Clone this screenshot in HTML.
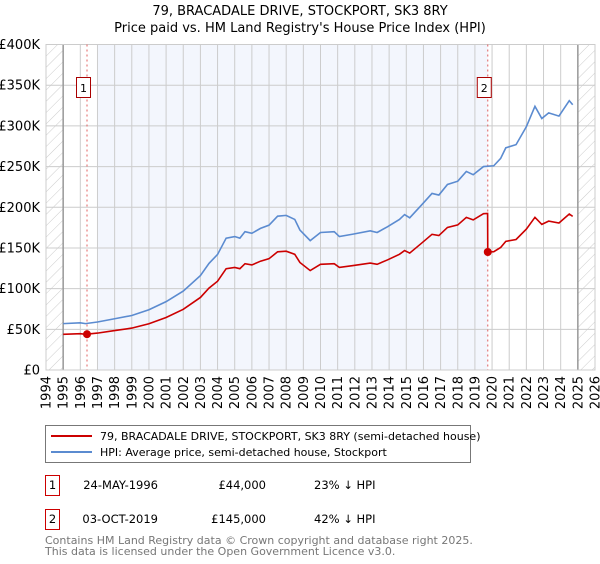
<!DOCTYPE html>
<html><head><meta charset="utf-8"><style>
body{margin:0;background:#fff;width:600px;height:560px;overflow:hidden;font-family:"DejaVu Sans","Liberation Sans",sans-serif}
svg text{font-family:"DejaVu Sans","Liberation Sans",sans-serif}
</style></head><body>
<svg id="c" width="600" height="560" xmlns="http://www.w3.org/2000/svg">
<defs><pattern id="h" width="8" height="8" patternUnits="userSpaceOnUse" patternTransform="rotate(45)"><line x1="0" y1="0" x2="0" y2="8" stroke="#ccc" stroke-width="1"/></pattern></defs>
<text x="300" y="15" text-anchor="middle" font-size="13" fill="#000">79, BRACADALE DRIVE, STOCKPORT, SK3 8RY</text>
<text x="300" y="32" text-anchor="middle" font-size="13" fill="#000">Price paid vs. HM Land Registry's House Price Index (HPI)</text>
<g id="plot"></g>
<g>
<rect x="45.5" y="425.5" width="425" height="37" fill="#fff" stroke="#777"/>
<line x1="51" y1="436" x2="92" y2="436" stroke="#cc0000" stroke-width="2"/>
<text x="100" y="440" font-size="11">79, BRACADALE DRIVE, STOCKPORT, SK3 8RY (semi-detached house)</text>
<line x1="51" y1="452" x2="92" y2="452" stroke="#5b8bd0" stroke-width="2"/>
<text x="100" y="456" font-size="11">HPI: Average price, semi-detached house, Stockport</text>
</g>
<g font-size="11.5">
<rect x="45.5" y="475.5" width="14" height="20" fill="#fff" stroke="#cc0000"/>
<text x="52.5" y="489" text-anchor="middle">1</text>
<text x="158" y="489" text-anchor="end">24-MAY-1996</text>
<text x="266" y="489" text-anchor="end">£44,000</text>
<text x="314" y="489">23% ↓ HPI</text>
<rect x="45.5" y="509.5" width="14" height="20" fill="#fff" stroke="#cc0000"/>
<text x="52.5" y="523" text-anchor="middle">2</text>
<text x="158" y="523" text-anchor="end">03-OCT-2019</text>
<text x="266" y="523" text-anchor="end">£145,000</text>
<text x="314" y="523">42% ↓ HPI</text>
</g>
<text x="45" y="544" font-size="11" fill="#777">Contains HM Land Registry data © Crown copyright and database right 2025.</text>
<text x="45" y="555" font-size="11" fill="#777">This data is licensed under the Open Government Licence v3.0.</text>
</svg>
<script>
const hpiYears=[1995,1996,1996.3,1997,1998,1999,2000,2001,2002,2003,2003.5,2004,2004.5,2005,2005.3,2005.6,2006,2006.5,2007,2007.5,2008,2008.5,2008.8,2009.4,2010,2010.8,2011.1,2011.9,2012.9,2013.3,2013.9,2014.6,2014.9,2015.2,2015.9,2016.5,2016.9,2017.4,2018,2018.5,2018.9,2019.5,2020.1,2020.5,2020.8,2021.4,2022,2022.5,2022.9,2023.3,2023.9,2024.5,2024.7];
const hpiValues=[57,58,57,59,63,67,74,84,97,116,131,142,162,164,162,170,168,174,178,189,190,185,172,159,169,170,164,167,171,169,176,185,191,187,203,217,215,228,232,244,240,250,251,260,273,277,299,324,309,316,312,331,326];
const saleYears=[1996.39,2019.75];
const salePrices=[44,145];
const yTicks=[0,50,100,150,200,250,300,350,400];
const yTickLabels=["£0","£50K","£100K","£150K","£200K","£250K","£300K","£350K","£400K"];
const xTicks=[1994,1995,1996,1997,1998,1999,2000,2001,2002,2003,2004,2005,2006,2007,2008,2009,2010,2011,2012,2013,2014,2015,2016,2017,2018,2019,2020,2021,2022,2023,2024,2025,2026];

const L=46,R=595,T=44.5,B=370;
const X=y=>L+(y-1994)/(2026-1994)*(R-L);
const Y=v=>B-v/400*(B-T);
const NS="http://www.w3.org/2000/svg";
const g=document.getElementById('plot');
function mk(t,a){const e=document.createElementNS(NS,t);for(const k in a)e.setAttribute(k,a[k]);g.appendChild(e);return e;}
function hpiAt(y){for(let i=0;i<hpiYears.length-1;i++){if(y<=hpiYears[i+1]){const f=(y-hpiYears[i])/(hpiYears[i+1]-hpiYears[i]);return hpiValues[i]+f*(hpiValues[i+1]-hpiValues[i]);}}return hpiValues[hpiValues.length-1];}

let e=mk('rect',{x:X(1997),y:T,width:X(saleYears[1])-X(1997),height:B-T,fill:'#f3f6fd'});


e=mk('rect',{x:L,y:T,width:X(1995)-L,height:B-T,fill:'url(#h)'});


e=mk('rect',{x:X(2025),y:T,width:R-X(2025),height:B-T,fill:'url(#h)'});



xTicks.forEach(t=>{
 const l=mk('line',{x1:X(t),x2:X(t),y1:T,y2:B,stroke:'#ccc','stroke-width':1});
 
 
 const tx=mk('text',{x:0,y:0,'font-size':13,'text-anchor':'end',transform:`translate(${X(t)+4.5},${B+6}) rotate(-90)`});
 tx.textContent=t;
 
 
});
yTicks.forEach((t,i)=>{
 const l=mk('line',{x1:L,x2:R,y1:Y(t),y2:Y(t),stroke:'#ccc','stroke-width':1});
 
 
 const tx=mk('text',{x:40,y:Y(t)+4.5,'font-size':13,'text-anchor':'end'});
 tx.textContent=yTickLabels[i];
 
 
});
[1995,2025].forEach(t=>{const l=mk('line',{x1:X(t),x2:X(t),y1:T,y2:B,stroke:'#999','stroke-width':1.5});
 
 });
e=mk('rect',{x:L,y:T,width:R-L,height:B-T,fill:'none',stroke:'#ccc'});



saleYears.forEach((s,i)=>{
 const l=mk('line',{x1:X(s),x2:X(s),y1:T,y2:B,stroke:'#e06060','stroke-dasharray':'2,3','stroke-width':1});
 
 
});

e=mk('polyline',{points:hpiYears.map((y,i)=>X(y)+','+Y(hpiValues[i])).join(' '),fill:'none',stroke:'#5b8bd0','stroke-width':1.6});



const pts=[];
hpiYears.forEach((y,i)=>{
 let k=0;if(y>=saleYears[1])k=1;
 if(k===1&&pts.length&&pts[pts.length-1].k===0){const p0=hpiAt(saleYears[1]-0.01)*salePrices[0]/hpiAt(saleYears[0]);pts.push({x:saleYears[1]-0.01,v:p0,k:0});pts.push({x:saleYears[1],v:salePrices[1],k:1});}
 pts.push({x:y,v:hpiValues[i]*salePrices[k]/hpiAt(saleYears[k]),k:k});
});
e=mk('polyline',{points:pts.map(p=>X(p.x)+','+Y(p.v)).join(' '),fill:'none',stroke:'#cc0000','stroke-width':1.6});



saleYears.forEach((s,i)=>{
 const c=mk('circle',{cx:X(s),cy:Y(salePrices[i]),r:4,fill:'#cc0000'});
 
 
 const r=mk('rect',{x:X(s)-10.5,y:77.5,width:14,height:20,fill:'#fff',stroke:'#aa0000'});
 
 
 const t=mk('text',{x:X(s)-3.5,y:92,'font-size':11,'text-anchor':'middle'});
 t.textContent=String(i+1);
 
 
});
</script>
</body></html>
